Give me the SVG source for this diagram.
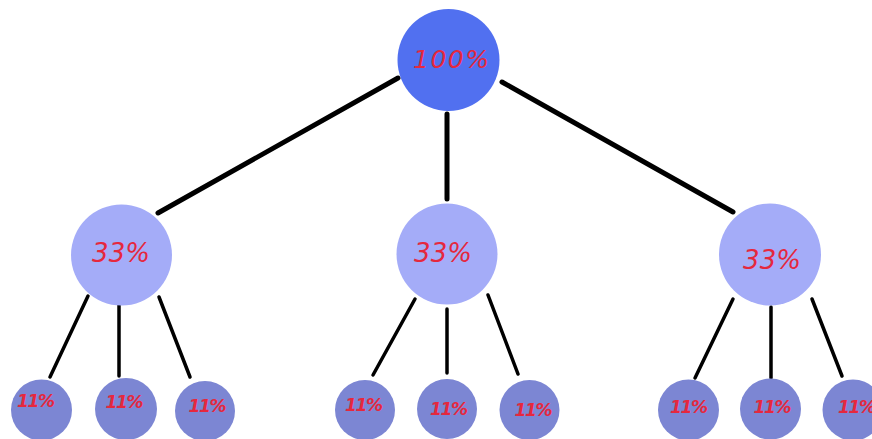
<svg xmlns="http://www.w3.org/2000/svg" width="872" height="439" viewBox="0 0 872 439">
  <style>
    .edge { stroke: #000; stroke-linecap: round; fill: none; }
    .main { stroke-width: 5; }
    .sub { stroke-width: 3.5; }
    .root { fill: #5170f0; }
    .mid { fill: #a4acf8; }
    .leaf { fill: #7c86d3; }
    text { fill: #e5283e; font-family: "DejaVu Sans", Verdana, sans-serif; font-style: italic; text-anchor: middle; }
    .t1 { font-size: 25px; }
    .t2 { font-size: 26px; }
    .t3 { font-size: 17px; font-weight: bold; }
  </style>
  <rect width="872" height="439" fill="#ffffff"/>
  <g id="connectors">
    <line class="edge main" x1="398" y1="78" x2="158" y2="213"/>
    <line class="edge main" x1="447" y1="114" x2="447" y2="199"/>
    <line class="edge main" x1="502" y1="82" x2="733" y2="212"/>
    <line class="edge sub" x1="88" y1="296" x2="50" y2="377"/>
    <line class="edge sub" x1="119" y1="305" x2="119" y2="376"/>
    <line class="edge sub" x1="159" y1="297" x2="190" y2="377"/>
    <line class="edge sub" x1="415" y1="299" x2="373" y2="375"/>
    <line class="edge sub" x1="447" y1="309" x2="447" y2="373"/>
    <line class="edge sub" x1="488" y1="295" x2="518" y2="374"/>
    <line class="edge sub" x1="733" y1="299" x2="695" y2="378"/>
    <line class="edge sub" x1="771" y1="307" x2="771" y2="378"/>
    <line class="edge sub" x1="812" y1="299" x2="842" y2="376"/>
  </g>
  <g id="n-root"><circle class="root" cx="448.5" cy="60" r="51"/><text class="t1" x="451" y="68" textLength="76">100%</text></g>
  <g id="n-a"><circle class="mid" cx="121.5" cy="255" r="50.5"/><text class="t2" x="121" y="262">33%</text></g>
  <g id="n-b"><circle class="mid" cx="447" cy="254" r="50.5"/><text class="t2" x="443" y="262">33%</text></g>
  <g id="n-c"><circle class="mid" cx="770" cy="254.5" r="51"/><text class="t2" x="772" y="269">33%</text></g>
  <g id="n-a1"><circle class="leaf" cx="41.5" cy="410" r="30.5"/><text class="t3" x="36" y="407" textLength="38">11%</text></g>
  <g id="n-a2"><circle class="leaf" cx="126" cy="409" r="31"/><text class="t3" x="124.5" y="408" textLength="38">11%</text></g>
  <g id="n-a3"><circle class="leaf" cx="205" cy="411" r="30"/><text class="t3" x="207.5" y="412" textLength="38">11%</text></g>
  <g id="n-b1"><circle class="leaf" cx="365" cy="410" r="30"/><text class="t3" x="364" y="411" textLength="38">11%</text></g>
  <g id="n-b2"><circle class="leaf" cx="447" cy="409" r="30"/><text class="t3" x="449" y="415" textLength="38">11%</text></g>
  <g id="n-b3"><circle class="leaf" cx="529.5" cy="410" r="30"/><text class="t3" x="533.5" y="416" textLength="38">11%</text></g>
  <g id="n-c1"><circle class="leaf" cx="688.5" cy="410" r="30.5"/><text class="t3" x="689" y="413" textLength="38">11%</text></g>
  <g id="n-c2"><circle class="leaf" cx="770.5" cy="409" r="30.5"/><text class="t3" x="772.5" y="413" textLength="38">11%</text></g>
  <g id="n-c3"><circle class="leaf" cx="853" cy="410" r="30.5"/><text class="t3" x="857" y="413" textLength="38">11%</text></g>
</svg>
